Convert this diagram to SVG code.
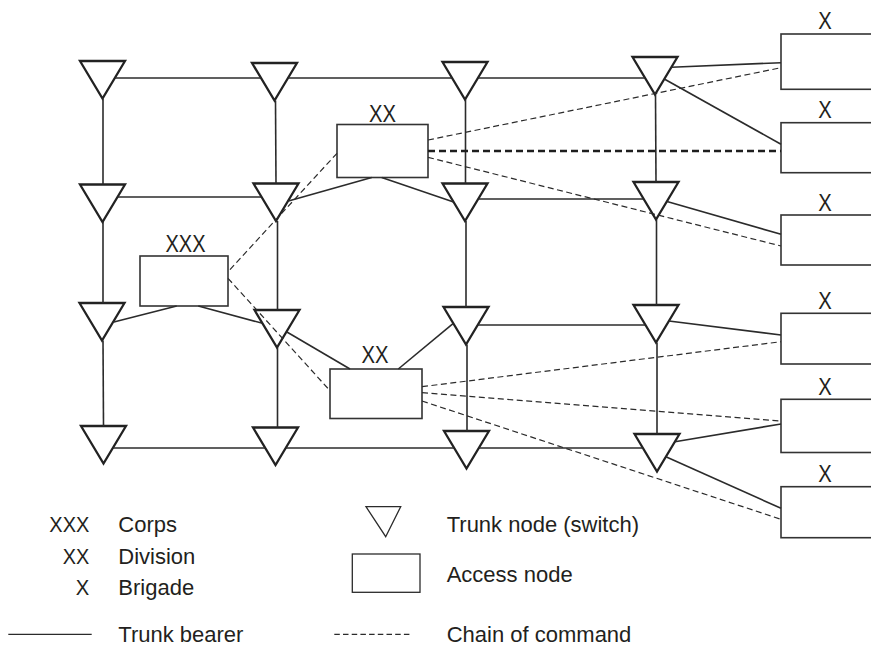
<svg xmlns="http://www.w3.org/2000/svg" width="871" height="645" viewBox="0 0 871 645">
  <defs>
    <style>
      .bg { fill: #ffffff; }
      .trunk { fill: #ffffff; stroke: #222222; stroke-width: 2.3; stroke-linejoin: miter; }
      .access { fill: #ffffff; stroke: #333333; stroke-width: 1.6; }
      .bearer { fill: none; stroke: #2b2b2b; stroke-width: 1.6; }
      .command { fill: none; stroke: #2b2b2b; stroke-width: 1.2; stroke-dasharray: 6 3.5; }
      .command-main { fill: none; stroke: #1e1e1e; stroke-width: 2.6; stroke-dasharray: 7 4; }
      .label { font-family: "Liberation Sans", Arial, sans-serif; font-size: 22px; fill: #231f20; }
      .echelon { text-anchor: middle; font-size: 23px; }
      .key-shape { fill: #ffffff; stroke: #2b2b2b; stroke-width: 1.3; }
    </style>
    <!-- inverted triangle used for every trunk node, apex pointing down -->
    <polygon id="tri" points="-22.5,0 22.5,0 0,37.5"/>
  </defs>

  <rect class="bg" x="0" y="0" width="871" height="645"/>

  <!-- Trunk nodes (switches) -->
  <g id="trunk-r1c1"><use href="#tri" class="trunk" x="102.5" y="61"/></g>
  <g id="trunk-r1c2"><use href="#tri" class="trunk" x="274.5" y="63"/></g>
  <g id="trunk-r1c3"><use href="#tri" class="trunk" x="465" y="62"/></g>
  <g id="trunk-r1c4"><use href="#tri" class="trunk" x="655" y="57"/></g>
  <g id="trunk-r2c1"><use href="#tri" class="trunk" x="102.5" y="184.5"/></g>
  <g id="trunk-r2c2"><use href="#tri" class="trunk" x="276" y="183.5"/></g>
  <g id="trunk-r2c3"><use href="#tri" class="trunk" x="465" y="183.5"/></g>
  <g id="trunk-r2c4"><use href="#tri" class="trunk" x="656" y="182"/></g>
  <g id="trunk-r3c1"><use href="#tri" class="trunk" x="102" y="303"/></g>
  <g id="trunk-r3c2"><use href="#tri" class="trunk" x="277" y="310"/></g>
  <g id="trunk-r3c3"><use href="#tri" class="trunk" x="466" y="307"/></g>
  <g id="trunk-r3c4"><use href="#tri" class="trunk" x="656" y="305"/></g>
  <g id="trunk-r4c1"><use href="#tri" class="trunk" x="103.5" y="426"/></g>
  <g id="trunk-r4c2"><use href="#tri" class="trunk" x="275.5" y="427.5"/></g>
  <g id="trunk-r4c3"><use href="#tri" class="trunk" x="466.5" y="431"/></g>
  <g id="trunk-r4c4"><use href="#tri" class="trunk" x="657" y="434"/></g>

  <!-- Access nodes: corps, divisions, brigades -->
  <g id="corps">
    <rect class="access" x="140" y="256" width="88" height="50"/>
    <text class="label echelon" x="185.5" y="252.3" textLength="40" lengthAdjust="spacingAndGlyphs">XXX</text>
  </g>
  <g id="division-north">
    <rect class="access" x="337" y="124.5" width="91" height="53"/>
    <text class="label echelon" x="382.5" y="121.7" textLength="27" lengthAdjust="spacingAndGlyphs">XX</text>
  </g>
  <g id="division-south">
    <rect class="access" x="330" y="369" width="92" height="49.5"/>
    <text class="label echelon" x="375" y="363.3" textLength="27" lengthAdjust="spacingAndGlyphs">XX</text>
  </g>
  <g id="brigade-1">
    <rect class="access" x="781" y="34" width="110" height="55.3"/>
    <text class="label echelon" x="825" y="29.3" textLength="13.5" lengthAdjust="spacingAndGlyphs">X</text>
  </g>
  <g id="brigade-2">
    <rect class="access" x="781" y="122.7" width="110" height="50"/>
    <text class="label echelon" x="825" y="118.3" textLength="13.5" lengthAdjust="spacingAndGlyphs">X</text>
  </g>
  <g id="brigade-3">
    <rect class="access" x="781" y="215" width="110" height="50"/>
    <text class="label echelon" x="825" y="210.7" textLength="13.5" lengthAdjust="spacingAndGlyphs">X</text>
  </g>
  <g id="brigade-4">
    <rect class="access" x="781" y="313.3" width="110" height="50.7"/>
    <text class="label echelon" x="825" y="309" textLength="13.5" lengthAdjust="spacingAndGlyphs">X</text>
  </g>
  <g id="brigade-5">
    <rect class="access" x="781" y="399.3" width="110" height="53.2"/>
    <text class="label echelon" x="825" y="395" textLength="13.5" lengthAdjust="spacingAndGlyphs">X</text>
  </g>
  <g id="brigade-6">
    <rect class="access" x="781" y="486.7" width="110" height="51"/>
    <text class="label echelon" x="825" y="482.3" textLength="13.5" lengthAdjust="spacingAndGlyphs">X</text>
  </g>

  <!-- Connectors: trunk bearers (solid) and chain of command (dashed) -->
  <g id="connectors">
    <!-- grid columns -->
    <line class="bearer" x1="103" y1="98.5" x2="103" y2="184.5"/>
    <line class="bearer" x1="103" y1="222" x2="103" y2="303"/>
    <line class="bearer" x1="103" y1="340.5" x2="103.5" y2="426"/>
    <line class="bearer" x1="275.5" y1="100.5" x2="276" y2="183.5"/>
    <line class="bearer" x1="277.5" y1="221" x2="277.5" y2="310"/>
    <line class="bearer" x1="277.5" y1="347.5" x2="277.5" y2="427.5"/>
    <line class="bearer" x1="465.5" y1="99.5" x2="465.5" y2="183.5"/>
    <line class="bearer" x1="466" y1="221" x2="466" y2="307"/>
    <line class="bearer" x1="467" y1="344.5" x2="467" y2="431"/>
    <line class="bearer" x1="655.5" y1="94.5" x2="656" y2="182"/>
    <line class="bearer" x1="656.5" y1="219.5" x2="656.5" y2="305"/>
    <line class="bearer" x1="657" y1="342.5" x2="657" y2="434"/>
    <!-- grid rows -->
    <line class="bearer" x1="114.8" y1="78" x2="261" y2="78"/>
    <line class="bearer" x1="288" y1="78" x2="452.1" y2="78"/>
    <line class="bearer" x1="477.9" y1="78" x2="645.1" y2="78"/>
    <line class="bearer" x1="117.5" y1="197" x2="261.6" y2="197"/>
    <line class="bearer" x1="478.2" y1="199" x2="643.7" y2="199"/>
    <line class="bearer" x1="477.7" y1="325" x2="645.5" y2="325"/>
    <line class="bearer" x1="112.8" y1="448" x2="265.3" y2="448"/>
    <line class="bearer" x1="285.7" y1="448" x2="454.2" y2="448"/>
    <line class="bearer" x1="478.8" y1="448" x2="642.9" y2="448"/>
    <!-- access node attachments -->
    <line class="bearer" x1="371.7" y1="177.5" x2="288.5" y2="201"/>
    <line class="bearer" x1="381.7" y1="177.5" x2="453.6" y2="202"/>
    <line class="bearer" x1="176.7" y1="306" x2="112.9" y2="322.3"/>
    <line class="bearer" x1="198.3" y1="306" x2="262.5" y2="323.3"/>
    <line class="bearer" x1="350" y1="369" x2="286.5" y2="331.7"/>
    <line class="bearer" x1="398.3" y1="369" x2="453.3" y2="323.3"/>
    <line class="bearer" x1="671.3" y1="67.3" x2="781" y2="62.7"/>
    <line class="bearer" x1="664.3" y1="79" x2="781" y2="144.3"/>
    <line class="bearer" x1="667" y1="201.5" x2="781" y2="234.3"/>
    <line class="bearer" x1="668.9" y1="321" x2="781" y2="335"/>
    <line class="bearer" x1="674.9" y1="441.7" x2="781" y2="424"/>
    <line class="bearer" x1="665.9" y1="456.7" x2="781" y2="508.3"/>
    <!-- chain of command -->
    <line class="command" x1="428" y1="140" x2="781" y2="67.7"/>
    <line class="command-main" x1="428" y1="151" x2="781" y2="151"/>
    <line class="command" x1="428" y1="157.3" x2="781" y2="246"/>
    <line class="command" x1="337" y1="153.3" x2="228" y2="271.7"/>
    <line class="command" x1="228" y1="278.3" x2="330" y2="390.7"/>
    <line class="command" x1="422" y1="386.7" x2="781" y2="341.7"/>
    <line class="command" x1="422" y1="392.7" x2="781" y2="421"/>
    <line class="command" x1="422" y1="401" x2="781" y2="519.3"/>
  </g>

  <!-- Key -->
  <g id="key">
    <text class="label" x="89.3" y="531.7" text-anchor="end" textLength="40" lengthAdjust="spacingAndGlyphs">XXX</text>
    <text class="label" x="118.3" y="531.7">Corps</text>
    <text class="label" x="89.3" y="564" text-anchor="end" textLength="26.5" lengthAdjust="spacingAndGlyphs">XX</text>
    <text class="label" x="118.3" y="564">Division</text>
    <text class="label" x="89.3" y="595" text-anchor="end" textLength="13.5" lengthAdjust="spacingAndGlyphs">X</text>
    <text class="label" x="118.3" y="595">Brigade</text>
    <line class="bearer" x1="8.3" y1="634.3" x2="91.7" y2="634.3" style="stroke-width:1.3"/>
    <text class="label" x="118.3" y="641.5">Trunk bearer</text>

    <polygon class="key-shape" points="366,506.7 400.7,506.7 385.7,536.7"/>
    <text class="label" x="446.7" y="531.7">Trunk node (switch)</text>
    <rect class="key-shape" x="352.3" y="554" width="67.7" height="38.3"/>
    <text class="label" x="446.7" y="581.7">Access node</text>
    <line x1="334.3" y1="634.3" x2="411.7" y2="634.3" style="fill:none;stroke:#2b2b2b;stroke-width:1.2;stroke-dasharray:5.5 3.2"/>
    <text class="label" x="446.7" y="641.5">Chain of command</text>
  </g>
</svg>
